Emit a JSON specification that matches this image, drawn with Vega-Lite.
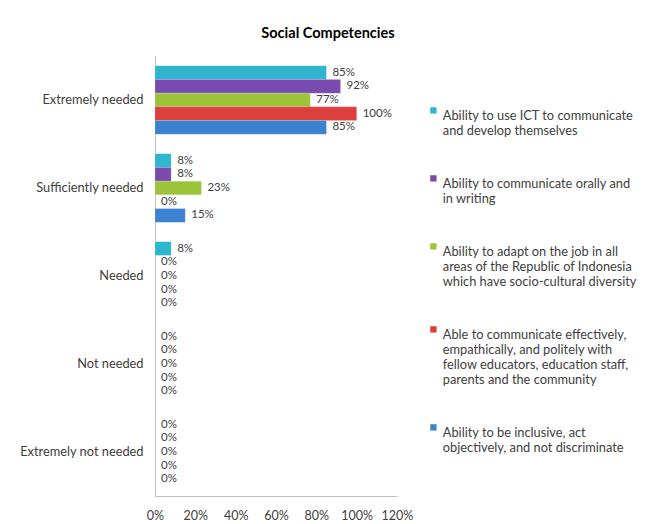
{
  "$schema": "https://vega.github.io/schema/vega-lite/v6.json",
  "width": 242,
  "height": 440,
  "autosize": {"type": "none"},
  "padding": {"left": 155, "top": 56, "right": 251, "bottom": 28},
  "background": "white",
  "title": {"text": "Social Competencies", "font": "Lato", "fontSize": 14.5, "fontWeight": "bold", "color": "#000000", "anchor": "middle", "dx": 52, "offset": 15},
  "config": {"view": {"stroke": null}, "font": "Lato"},
  "data": {"values": [
    {"level": "Extremely needed", "competency": "Ability to use ICT to communicate and develop themselves", "value": 0.85},
    {"level": "Extremely needed", "competency": "Ability to communicate orally and in writing", "value": 0.92},
    {"level": "Extremely needed", "competency": "Ability to adapt on the job in all areas of the Republic of Indonesia which have socio-cultural diversity", "value": 0.77},
    {"level": "Extremely needed", "competency": "Able to communicate effectively, empathically, and politely with fellow educators, education staff, parents and the community", "value": 1.0},
    {"level": "Extremely needed", "competency": "Ability to be inclusive, act objectively, and not discriminate", "value": 0.85},
    {"level": "Sufficiently needed", "competency": "Ability to use ICT to communicate and develop themselves", "value": 0.08},
    {"level": "Sufficiently needed", "competency": "Ability to communicate orally and in writing", "value": 0.08},
    {"level": "Sufficiently needed", "competency": "Ability to adapt on the job in all areas of the Republic of Indonesia which have socio-cultural diversity", "value": 0.23},
    {"level": "Sufficiently needed", "competency": "Able to communicate effectively, empathically, and politely with fellow educators, education staff, parents and the community", "value": 0.0},
    {"level": "Sufficiently needed", "competency": "Ability to be inclusive, act objectively, and not discriminate", "value": 0.15},
    {"level": "Needed", "competency": "Ability to use ICT to communicate and develop themselves", "value": 0.08},
    {"level": "Needed", "competency": "Ability to communicate orally and in writing", "value": 0.0},
    {"level": "Needed", "competency": "Ability to adapt on the job in all areas of the Republic of Indonesia which have socio-cultural diversity", "value": 0.0},
    {"level": "Needed", "competency": "Able to communicate effectively, empathically, and politely with fellow educators, education staff, parents and the community", "value": 0.0},
    {"level": "Needed", "competency": "Ability to be inclusive, act objectively, and not discriminate", "value": 0.0},
    {"level": "Not needed", "competency": "Ability to use ICT to communicate and develop themselves", "value": 0.0},
    {"level": "Not needed", "competency": "Ability to communicate orally and in writing", "value": 0.0},
    {"level": "Not needed", "competency": "Ability to adapt on the job in all areas of the Republic of Indonesia which have socio-cultural diversity", "value": 0.0},
    {"level": "Not needed", "competency": "Able to communicate effectively, empathically, and politely with fellow educators, education staff, parents and the community", "value": 0.0},
    {"level": "Not needed", "competency": "Ability to be inclusive, act objectively, and not discriminate", "value": 0.0},
    {"level": "Extremely not needed", "competency": "Ability to use ICT to communicate and develop themselves", "value": 0.0},
    {"level": "Extremely not needed", "competency": "Ability to communicate orally and in writing", "value": 0.0},
    {"level": "Extremely not needed", "competency": "Ability to adapt on the job in all areas of the Republic of Indonesia which have socio-cultural diversity", "value": 0.0},
    {"level": "Extremely not needed", "competency": "Able to communicate effectively, empathically, and politely with fellow educators, education staff, parents and the community", "value": 0.0},
    {"level": "Extremely not needed", "competency": "Ability to be inclusive, act objectively, and not discriminate", "value": 0.0}
  ]},
  "encoding": {
    "y": {
      "field": "level", "type": "nominal",
      "sort": ["Extremely needed", "Sufficiently needed", "Needed", "Not needed", "Extremely not needed"],
      "scale": {"paddingInner": 0.22, "paddingOuter": 0.11},
      "axis": {"title": null, "ticks": false, "domainColor": "#bfbfbf", "labelFontSize": 12.8, "labelColor": "#404040", "labelPadding": 12, "labelLimit": 200}
    },
    "yOffset": {
      "field": "competency", "type": "nominal",
      "sort": [
        "Ability to use ICT to communicate and develop themselves",
        "Ability to communicate orally and in writing",
        "Ability to adapt on the job in all areas of the Republic of Indonesia which have socio-cultural diversity",
        "Able to communicate effectively, empathically, and politely with fellow educators, education staff, parents and the community",
        "Ability to be inclusive, act objectively, and not discriminate"
      ]
    },
    "x": {
      "field": "value", "type": "quantitative",
      "scale": {"domain": [0, 1.2]},
      "axis": {"title": null, "format": ".0%", "values": [0, 0.2, 0.4, 0.6, 0.8, 1.0, 1.2], "grid": false, "ticks": false, "domainColor": "#bfbfbf", "labelPadding": 13, "labelFontSize": 12.5, "labelColor": "#404040", "labelOverlap": false, "labelFlush": false}
    }
  },
  "layer": [
    {
      "mark": {"type": "bar", "stroke": "#ffffff", "strokeOpacity": 0.25, "strokeWidth": 0.5},
      "encoding": {
        "color": {
          "field": "competency", "type": "nominal",
          "sort": [
            "Ability to use ICT to communicate and develop themselves",
            "Ability to communicate orally and in writing",
            "Ability to adapt on the job in all areas of the Republic of Indonesia which have socio-cultural diversity",
            "Able to communicate effectively, empathically, and politely with fellow educators, education staff, parents and the community",
            "Ability to be inclusive, act objectively, and not discriminate"
          ],
          "scale": {
            "domain": [
              "Ability to use ICT to communicate and develop themselves",
              "Ability to communicate orally and in writing",
              "Ability to adapt on the job in all areas of the Republic of Indonesia which have socio-cultural diversity",
              "Able to communicate effectively, empathically, and politely with fellow educators, education staff, parents and the community",
              "Ability to be inclusive, act objectively, and not discriminate"
            ],
            "range": ["#2fb5cf", "#7a4bae", "#9cc43a", "#dc3f3c", "#3d82d0"]
          },
          "legend": {
            "title": null, "orient": "none", "legendX": 272, "legendY": 48,
            "symbolType": "square", "symbolSize": 40, "symbolStrokeWidth": 0, "labelOffset": 3,
            "labelFontSize": 12.8, "labelColor": "#404040", "labelLimit": 300, "labelBaseline": "top",
            "rowPadding": 34,
            "labelExpr": "indexof(datum.value, 'ICT') >= 0 ? ['Ability to use ICT to communicate', 'and develop themselves'] : indexof(datum.value, 'orally') >= 0 ? ['Ability to communicate orally and', 'in writing'] : indexof(datum.value, 'adapt') >= 0 ? ['Ability to adapt on the job in all', 'areas of the Republic of Indonesia', 'which have socio-cultural diversity'] : indexof(datum.value, 'effectively') >= 0 ? ['Able to communicate effectively,', 'empathically, and politely with', 'fellow educators, education staff,', 'parents and the community'] : ['Ability to be inclusive, act', 'objectively, and not discriminate']"
          }
        }
      }
    },
    {
      "mark": {"type": "text", "align": "left", "baseline": "middle", "dx": 6, "fontSize": 11.5, "color": "#404040"},
      "encoding": {"text": {"field": "value", "type": "quantitative", "format": ".0%"}}
    }
  ]
}
